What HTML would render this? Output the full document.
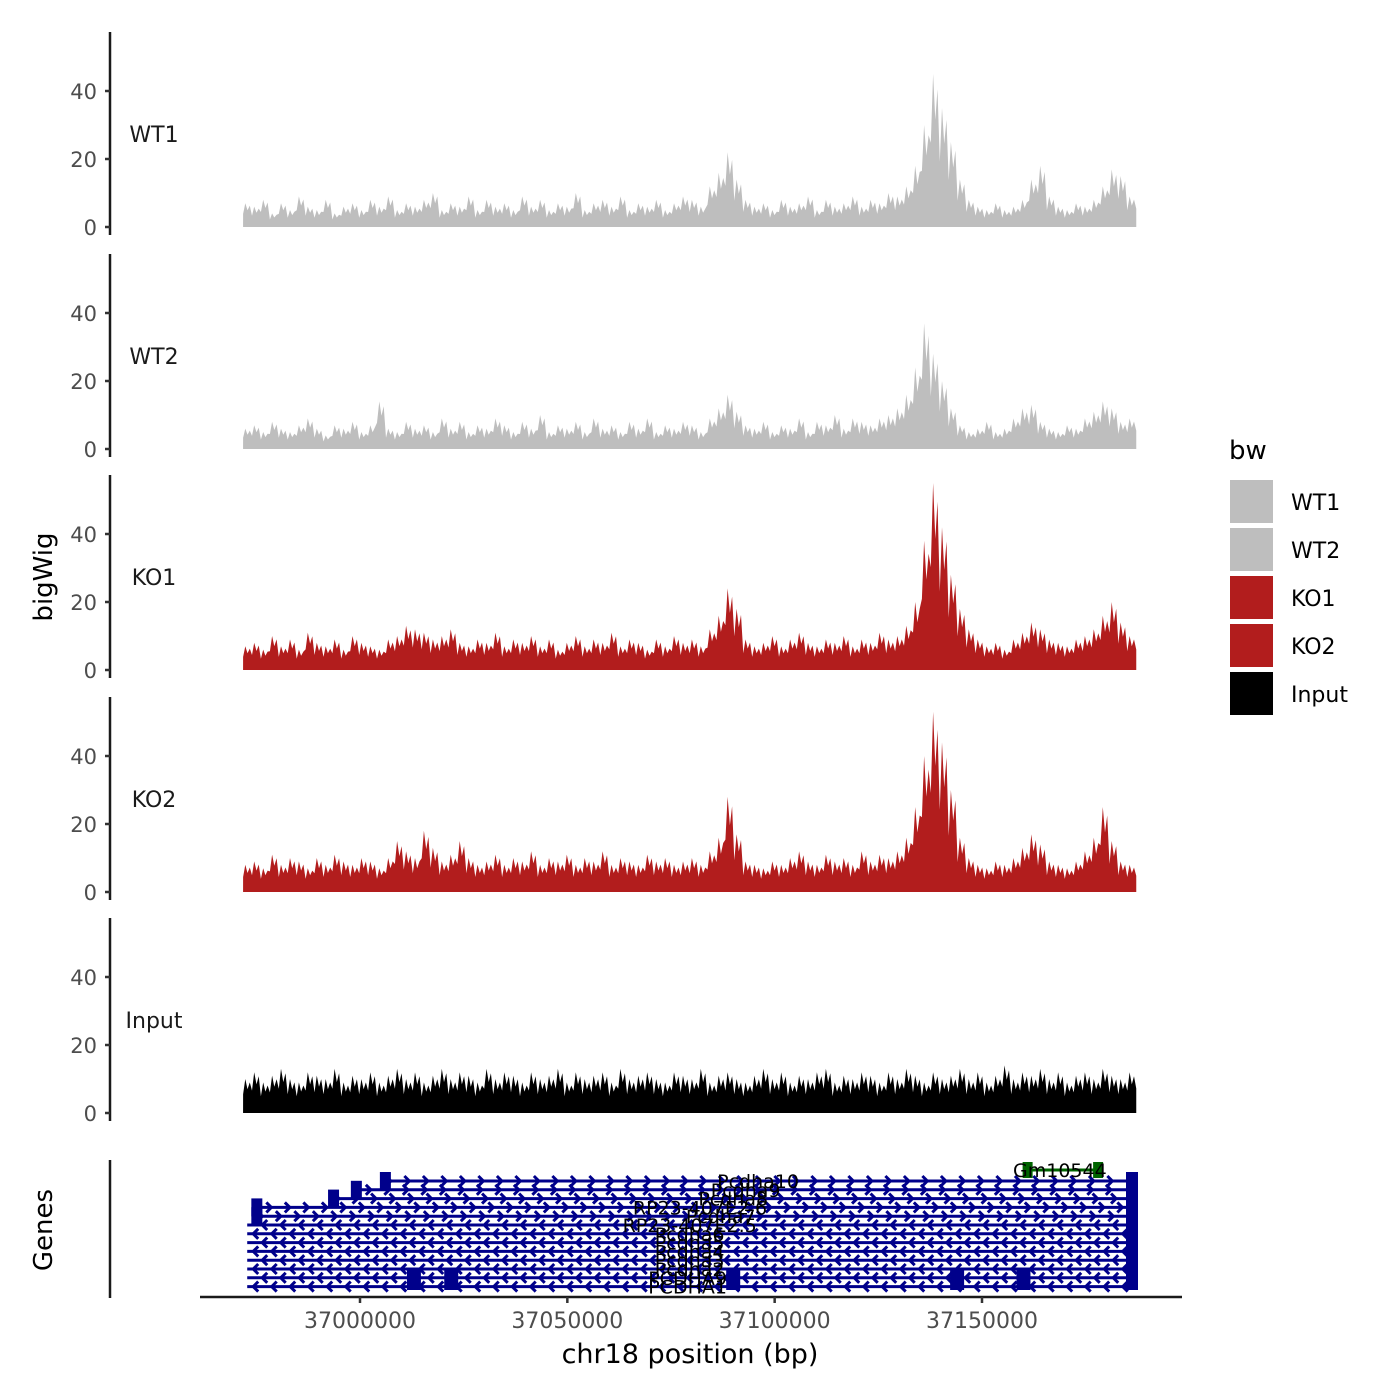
<!DOCTYPE html>
<html><head><meta charset="utf-8">
<style>
html,body{margin:0;padding:0;background:#fff;}
svg{display:block;font-family:"DejaVu Sans","Liberation Sans",sans-serif;}
</style></head>
<body>
<svg id="chart" width="1400" height="1400" viewBox="0 0 1400 1400" xmlns="http://www.w3.org/2000/svg">
<g id="tracks"></g>
<g id="genes"></g>
<g id="xaxis"></g>
<text x="52" y="577" transform="rotate(-90 52 577)" text-anchor="middle" font-size="26" fill="#000">bigWig</text>
<text x="52" y="1230" transform="rotate(-90 52 1230)" text-anchor="middle" font-size="26" fill="#000">Genes</text>
<text x="690" y="1363" text-anchor="middle" font-size="27" fill="#000">chr18 position (bp)</text>
<g id="legend">
<text x="1229" y="459" font-size="26" fill="#000">bw</text>
</g>
</svg>
<script>
const trackNames = ["WT1","WT2","KO1","KO2","Input"];
const trackColors = ["#bebebe","#bebebe","#b21d1d","#b21d1d","#000000"];
const yTicks = [0,20,40];
const xTicks = [37000000,37050000,37100000,37150000];
const binStart = 36971800, binEnd = 37187200;
const wt1 = [7,6,8,4,7,5,9,6,5,8,4,6,7,5,8,6,9,5,7,6,8,10,5,7,6,9,5,8,6,7,5,9,6,8,5,7,6,10,5,7,8,6,9,5,7,6,8,5,7,9,8,6,12,16,22,14,8,6,7,5,8,6,7,9,5,8,6,7,9,6,8,7,10,9,12,18,30,45,35,25,14,8,6,5,7,5,6,8,14,18,9,6,5,7,6,8,12,17,15,9];
const wt2 = [6,7,5,8,6,5,7,9,6,4,7,6,8,5,7,14,6,5,8,6,7,5,9,6,8,5,7,6,9,7,5,8,6,10,5,7,6,8,5,9,6,7,5,8,6,9,5,7,6,8,7,5,9,12,16,11,7,6,8,5,7,6,9,5,8,7,10,6,9,8,7,9,10,12,16,24,37,28,20,12,7,5,6,8,5,6,9,12,13,8,6,5,7,6,9,11,14,12,8,9];
const ko1 = [7,8,6,10,7,9,6,11,8,7,9,6,10,8,7,6,9,10,13,12,11,9,10,12,8,7,9,8,11,7,9,8,10,7,9,6,8,10,7,9,8,11,7,9,8,6,9,7,10,8,9,7,12,16,24,18,9,7,8,10,7,9,11,8,7,9,8,10,7,9,8,11,9,10,13,20,38,55,42,28,18,12,9,7,8,6,9,11,14,12,9,8,7,9,10,12,16,20,14,10];
const ko2 = [8,9,7,11,8,10,9,7,10,8,11,9,8,10,9,7,10,15,12,10,18,13,9,11,15,10,8,9,11,8,10,9,12,8,10,9,11,8,10,9,12,8,10,9,8,11,9,10,8,9,10,8,12,16,28,17,9,8,7,9,8,10,12,9,8,11,9,10,8,12,9,11,10,12,16,25,40,53,44,30,16,10,8,7,9,8,10,13,17,14,9,8,7,9,12,16,25,15,9,8];
const inputSig = [10,12,9,11,13,10,9,12,11,10,13,9,11,10,12,9,11,13,10,12,9,11,13,10,12,11,9,13,10,12,11,9,12,10,11,13,9,12,10,11,12,9,13,10,11,12,10,9,12,11,10,13,9,11,12,10,9,11,13,10,12,9,11,10,12,13,9,11,10,12,11,9,12,10,13,11,9,12,10,11,13,10,12,9,11,14,10,12,11,13,10,12,9,11,12,10,13,11,10,12];
const signals = [wt1,wt2,ko1,ko2,inputSig];

const geneLabels = ["Pcdha10","Pcdha9","Pcdha8","RP23-407E2.6","Pcdha7","RP23-407E2.5","Pcdha6","Pcdha5","Pcdha4","Pcdha3","Pcdha2","PCDHA9","PCDHA1"];
const geneStarts = [37006000,36999000,36993500,36975000,36975000,36972800,36972800,36972800,36972800,36972800,36972800,36972800,36972800];
const geneEnds =   [37186000,37186000,37186000,37186000,37186000,37186000,37186000,37186000,37186000,37186000,37186000,37186000,37186000];
const geneStrands = ["+","+","+","+","+","-","-","-","-","-","-","-","-"];
const labelBp = [37096000,37093000,37090000,37082000,37087000,37079500,37079500,37079500,37079500,37079500,37079500,37079000,37079000];
const otherGene = {label:"Gm10544", start:37161000, end:37178000};
const exonPos = [37013000,37022000,37090000,37144000,37160000];

const NS="http://www.w3.org/2000/svg";
function el(tag,attrs,parent){const e=document.createElementNS(NS,tag);for(const k in attrs)e.setAttribute(k,attrs[k]);parent.appendChild(e);return e;}
const xScale = bp => 360 + (bp-37000000)*(982-360)/150000;
const panelZero = [227,449,670,892,1113];
const yUnit = 3.4;

const tracks=document.getElementById('tracks');
signals.forEach((vals,i)=>{
  const z=panelZero[i];
  const g=el('g',{},tracks);
  
  
  const ax=el('line',{x1:110,x2:110,y1:z-195,y2:z+8,stroke:'#1a1a1a','stroke-width':2.5},g);
  
  
  yTicks.forEach(t=>{
    const y=z-t*yUnit;
    const tk=el('line',{x1:105,x2:110,y1:y,y2:y,stroke:'#333','stroke-width':2.5},g);
    
    
    const tl=el('text',{x:97,y:y+8,'text-anchor':'end','font-size':21,fill:'#4d4d4d'},g);
    tl.textContent=t;
    
    
  });
  const lab=el('text',{x:154,y:z-85,'text-anchor':'middle','font-size':22,fill:'#1a1a1a'},g);
  lab.textContent=trackNames[i];
  
  
  const n=vals.length, bw=(binEnd-binStart)/n;
  const fr=[0.55,1,0.7,0.9];
  let d='M'+xScale(binStart)+','+z;
  vals.forEach((v,j)=>{
    for(let k=0;k<4;k++){
      const x=xScale(binStart+(j+k/4)*bw);
      d+=' L'+x.toFixed(1)+','+(z-v*yUnit*fr[k]).toFixed(1);
    }
  });
  d+=' L'+xScale(binEnd)+','+(z-vals[n-1]*yUnit*0.6).toFixed(1)+' L'+xScale(binEnd)+','+z+' Z';
  const p=el('path',{d:d,fill:trackColors[i]},g);
  
  
});

const genes=document.getElementById('genes');
const gax=el('line',{x1:110,x2:110,y1:1160,y2:1298,stroke:'#1a1a1a','stroke-width':2.5},genes);


const rowY=i=>1181+i*8.8;
const labelLayer=[];
geneLabels.forEach((lbl,i)=>{
  const y=rowY(i), x1=xScale(geneStarts[i]), x2=xScale(geneEnds[i]);
  const g=el('g',{},genes);
  
  
  el('line',{x1:x1,x2:x2,y1:y,y2:y,stroke:'#00008b','stroke-width':3},g);
  let cd='';
  const off=(i%2)*9;
  for(let x=x1+6+off;x<x2-4;x+=18.5){
    if(geneStrands[i]==='+') cd+='M'+(x-5)+','+(y-5)+' L'+x+','+y+' L'+(x-5)+','+(y+5)+' ';
    else cd+='M'+(x+5)+','+(y-5)+' L'+x+','+y+' L'+(x+5)+','+(y+5)+' ';
  }
  el('path',{d:cd,stroke:'#00008b','stroke-width':3,fill:'none'},g);
  if(geneStrands[i]==='+') el('rect',{x:x1-5,y:y-9,width:11,height:18,fill:'#00008b'},g);
  labelLayer.push([lbl,xScale(labelBp[i]),y+7]);
});
exonPos.forEach(p=>{
  const r=el('rect',{x:xScale(p)-7,y:1270,width:14,height:20,fill:'#00008b'},genes);
  
  
});
const endBlock=el('rect',{x:1126,y:1172,width:12,height:118,fill:'#00008b'},genes);


labelLayer.forEach(a=>{
  const t=el('text',{x:a[1],y:a[2],'text-anchor':'middle','font-size':19,fill:'#000'},genes);
  t.textContent=a[0];
  
  
});
const og=el('g',{},genes);


const ox1=xScale(otherGene.start), ox2=xScale(otherGene.end);
el('line',{x1:ox1,x2:ox2,y1:1170,y2:1170,stroke:'#006400','stroke-width':3},og);
el('rect',{x:ox1-5,y:1162,width:10,height:16,fill:'#006400'},og);
el('rect',{x:ox2-5,y:1162,width:10,height:16,fill:'#006400'},og);
const ot=el('text',{x:(ox1+ox2)/2-3,y:1177,'text-anchor':'middle','font-size':19,fill:'#000'},og);
ot.textContent=otherGene.label;

const xa=document.getElementById('xaxis');
const xl=el('line',{x1:200,x2:1182,y1:1297,y2:1297,stroke:'#1a1a1a','stroke-width':2.5},xa);


xTicks.forEach(t=>{
  const x=xScale(t);
  const tk=el('line',{x1:x,x2:x,y1:1297,y2:1303,stroke:'#333','stroke-width':2.5},xa);
  
  
  const tl=el('text',{x:x,y:1328,'text-anchor':'middle','font-size':22,fill:'#4d4d4d'},xa);
  tl.textContent=t;
  
  
});

const lg=document.getElementById('legend');
trackNames.forEach((n,i)=>{
  const y=480+i*48;
  const r=el('rect',{x:1230,y:y,width:43,height:43,fill:trackColors[i]},lg);
  
  
  const t=el('text',{x:1291,y:y+30,'font-size':22,fill:'#000'},lg);
  t.textContent=n;
  
  
});
</script>
</body></html>
